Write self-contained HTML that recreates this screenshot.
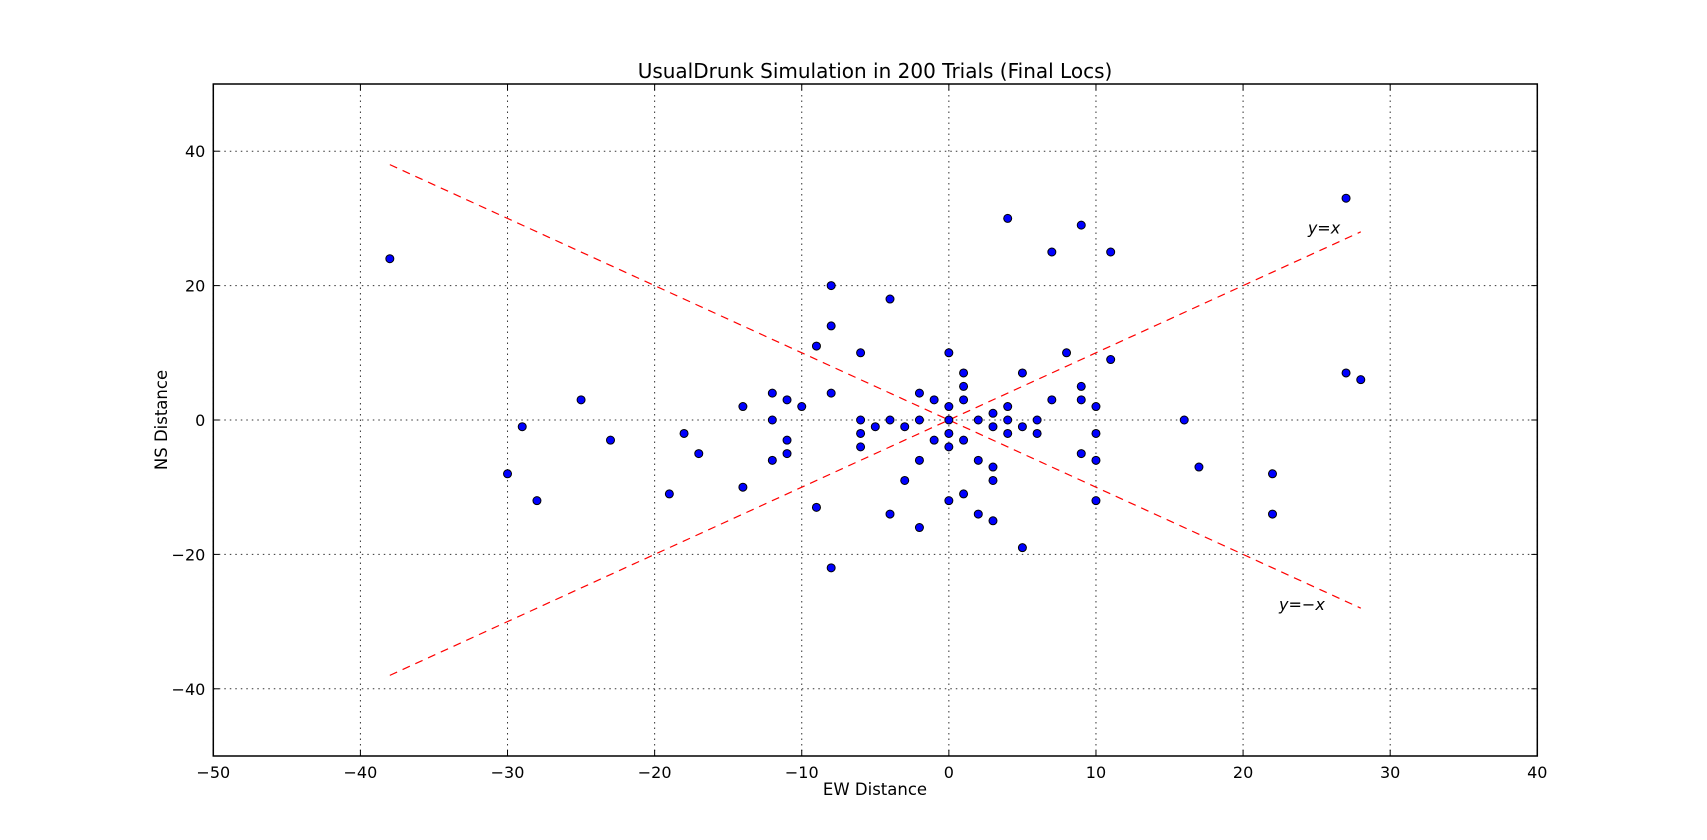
<!DOCTYPE html>
<html><head><meta charset="utf-8"><style>body{margin:0;background:#fff}svg{display:block}text{font-family:"DejaVu Sans","Liberation Sans",sans-serif;fill:#000}</style></head>
<body>
<svg id="chart" width="1707" height="840" viewBox="0 0 1707 840" xmlns="http://www.w3.org/2000/svg">
<rect width="1707" height="840" fill="#fff"/>
<text x="875" y="78" font-size="20" text-anchor="middle">UsualDrunk Simulation in 200 Trials (Final Locs)</text>
<text x="875" y="795" font-size="16.5" text-anchor="middle">EW Distance</text>
<text x="167" y="420" font-size="16.5" text-anchor="middle" transform="rotate(-90 167 420)">NS Distance</text>
<g id="grid"></g><g id="lines"></g><g id="pts"></g><g id="ticks"></g>
<rect x="213.3" y="84" width="1324" height="672" fill="none" stroke="#000" stroke-width="1.5"/>
</svg>
<script>
const xTicks=[-50,-40,-30,-20,-10,0,10,20,30,40];
const yTicks=[-40,-20,0,20,40];
const ptX=[-38,-30,-29,-28,-25,-23,-19,-18,-17,-14,-14,-12,-12,-12,-11,-11,-11,-10,-9,-9,-8,-8,-8,-8,-6,-6,-6,-6,-5,-4,-4,-4,-3,-3,-2,-2,-2,-2,-1,-1,0,0,0,0,0,0,1,1,1,1,1,2,2,2,3,3,3,3,3,4,4,4,4,5,5,5,6,6,7,7,8,9,9,9,9,10,10,10,10,11,11,16,17,22,22,27,27,28];
const ptY=[24,-8,-1,-12,3,-3,-11,-2,-5,2,-10,4,0,-6,3,-3,-5,2,11,-13,20,14,4,-22,10,0,-2,-4,-1,18,0,-14,-1,-9,4,0,-6,-16,3,-3,10,2,0,-2,-4,-12,7,5,3,-3,-11,0,-6,-14,1,-1,-7,-9,-15,30,2,0,-2,7,-1,-19,0,-2,25,3,10,29,5,3,-5,2,-2,-6,-12,25,9,0,-7,-8,-14,33,7,6];
const lineStart=[-38,28];
const NS='http://www.w3.org/2000/svg';
const L=213.3,R=1537.3,T=84,B=756;
const sx=v=>L+(v+50)/90*(R-L), sy=v=>B-(v+50)/100*(B-T);
function mk(tag,attrs,parent){const e=document.createElementNS(NS,tag);for(const k in attrs)e.setAttribute(k,attrs[k]);document.getElementById(parent).appendChild(e);return e;}
xTicks.forEach(v=>{
 const g=mk('line',{x1:sx(v),x2:sx(v),y1:T,y2:B,stroke:'#333','stroke-dasharray':'1.5,4','stroke-width':1},'grid');
 
 
 mk('line',{x1:sx(v),x2:sx(v),y1:B,y2:B-6,stroke:'#000'},'ticks');
 mk('line',{x1:sx(v),x2:sx(v),y1:T,y2:T+6,stroke:'#000'},'ticks');
 const t=mk('text',{x:sx(v),y:B+22,'font-size':16,'text-anchor':'middle'},'ticks');
 t.textContent=v<0?'\u2212'+(-v):String(v);
 
 
});
yTicks.forEach(v=>{
 const g=mk('line',{x1:L,x2:R,y1:sy(v),y2:sy(v),stroke:'#333','stroke-dasharray':'1.5,4','stroke-width':1},'grid');
 
 
 mk('line',{x1:L,x2:L+6,y1:sy(v),y2:sy(v),stroke:'#000'},'ticks');
 mk('line',{x1:R,x2:R-6,y1:sy(v),y2:sy(v),stroke:'#000'},'ticks');
 const t=mk('text',{x:L-8,y:sy(v)+6,'font-size':16,'text-anchor':'end'},'ticks');
 t.textContent=v<0?'\u2212'+(-v):String(v);
 
 
});
const a=lineStart[0],b=lineStart[1];
const l1=mk('line',{x1:sx(a),y1:sy(a),x2:sx(b),y2:sy(b),stroke:'#f00','stroke-width':1.2,'stroke-dasharray':'8,6'},'lines');


const l2=mk('line',{x1:sx(a),y1:sy(-a),x2:sx(b),y2:sy(-b),stroke:'#f00','stroke-width':1.2,'stroke-dasharray':'8,6'},'lines');


const t1=mk('text',{x:sx(25.5),y:sy(28.5)+5,'font-size':16,'font-style':'italic','text-anchor':'middle','font-family':'Liberation Serif,serif'},'lines');
t1.textContent='y=x';


const t2=mk('text',{x:sx(24),y:sy(-27.5)+5,'font-size':16,'font-style':'italic','text-anchor':'middle','font-family':'Liberation Serif,serif'},'lines');
t2.textContent='y=\u2212x';


ptX.forEach((x,i)=>{
 const c=mk('circle',{cx:sx(x),cy:sy(ptY[i]),r:4,fill:'#0000ff',stroke:'#000','stroke-width':1},'pts');
 
 
});
</script>
</body></html>
